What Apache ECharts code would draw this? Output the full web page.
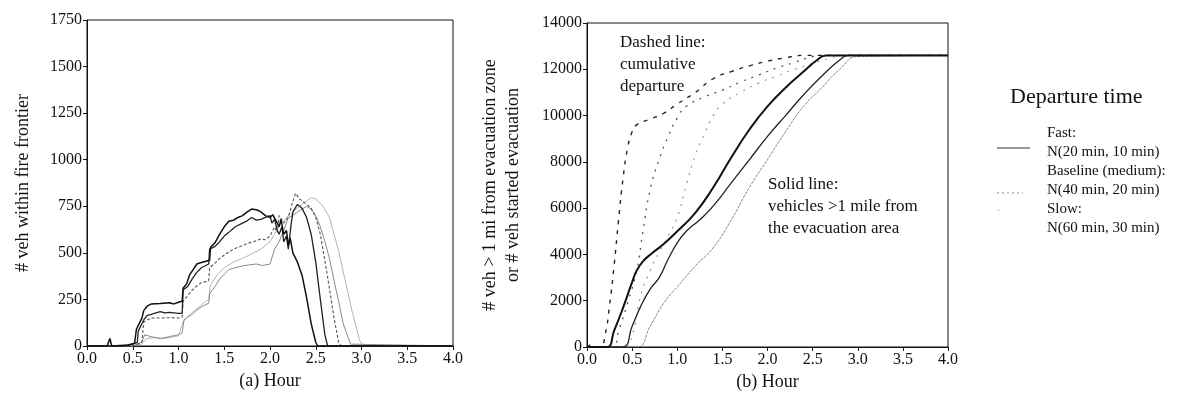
<!DOCTYPE html>
<html>
<head>
<meta charset="utf-8">
<title>Departure time scenarios</title>
<script src="https://cdn.jsdelivr.net/npm/echarts@6.0.0/dist/echarts.min.js"></script>
<style>
    html, body { margin: 0; padding: 0; background: #fff; }
    #chart { width: 1194px; height: 403px; }
</style>
</head>
<body>
<div id="chart"></div>
<script>
// ---- data ----
var hourTicks = [0, 0.5, 1, 1.5, 2, 2.5, 3, 3.5, 4];
var leftYTicks = [0, 250, 500, 750, 1000, 1250, 1500, 1750];
var rightYTicks = [0, 2000, 4000, 6000, 8000, 10000, 12000, 14000];

// (a) vehicles within fire frontier, [hour, count]
var frontierA = [[0, 0], [0.22, 0], [0.25, 40], [0.27, 0], [0.45, 5], [0.52, 15], [0.53, 20], [0.54, 90], [0.6, 150], [0.62, 190], [0.66, 215], [0.7, 225], [0.8, 228], [0.9, 232], [0.95, 226], [1.0, 235], [1.04, 240], [1.05, 310], [1.09, 335], [1.12, 380], [1.16, 410], [1.2, 440], [1.25, 448], [1.3, 455], [1.34, 460], [1.35, 530], [1.4, 555], [1.45, 600], [1.5, 640], [1.55, 670], [1.6, 675], [1.65, 690], [1.7, 700], [1.75, 720], [1.8, 735], [1.82, 745], [1.86, 730], [1.9, 720], [1.95, 700], [2.0, 690], [2.03, 705], [2.05, 700], [2.08, 660], [2.1, 640], [2.12, 680], [2.15, 600], [2.18, 620], [2.2, 540], [2.22, 580], [2.25, 500], [2.3, 450], [2.35, 380], [2.4, 260], [2.45, 120], [2.5, 20], [2.52, 0], [4, 0]];
var frontierB = [[0, 0], [0.4, 0], [0.5, 10], [0.55, 20], [0.56, 80], [0.62, 140], [0.66, 165], [0.7, 170], [0.8, 185], [0.85, 178], [0.9, 180], [1.0, 175], [1.04, 175], [1.05, 300], [1.1, 320], [1.15, 360], [1.2, 395], [1.25, 420], [1.33, 440], [1.34, 520], [1.4, 535], [1.45, 560], [1.5, 590], [1.55, 610], [1.62, 640], [1.7, 660], [1.75, 672], [1.8, 690], [1.85, 676], [1.9, 680], [1.95, 690], [2.0, 700], [2.02, 660], [2.05, 680], [2.08, 620], [2.1, 600], [2.13, 640], [2.15, 560], [2.18, 590], [2.2, 520], [2.23, 650], [2.25, 720], [2.3, 760], [2.35, 740], [2.4, 690], [2.45, 600], [2.5, 450], [2.55, 250], [2.6, 60], [2.63, 0], [4, 0]];
var frontierC = [[0, 0], [0.5, 0], [0.6, 20], [0.62, 130], [0.7, 150], [0.8, 150], [0.9, 152], [1.0, 150], [1.04, 155], [1.05, 240], [1.1, 270], [1.15, 300], [1.2, 322], [1.25, 340], [1.33, 350], [1.34, 420], [1.4, 445], [1.45, 470], [1.52, 495], [1.6, 520], [1.68, 535], [1.75, 550], [1.82, 560], [1.9, 575], [1.95, 570], [2.0, 590], [2.05, 640], [2.08, 610], [2.1, 700], [2.15, 660], [2.2, 690], [2.24, 760], [2.28, 820], [2.32, 790], [2.35, 780], [2.4, 760], [2.45, 740], [2.5, 690], [2.55, 600], [2.62, 400], [2.7, 150], [2.75, 20], [2.78, 0], [4, 0]];
var frontierD = [[0, 0], [0.5, 0], [0.6, 20], [0.63, 60], [0.7, 50], [0.8, 40], [0.9, 50], [1.0, 60], [1.04, 70], [1.06, 140], [1.1, 155], [1.15, 170], [1.2, 192], [1.25, 210], [1.33, 230], [1.34, 280], [1.4, 320], [1.45, 360], [1.5, 385], [1.55, 410], [1.62, 420], [1.7, 430], [1.78, 436], [1.85, 440], [1.92, 432], [2.0, 440], [2.05, 520], [2.1, 560], [2.15, 620], [2.2, 690], [2.25, 700], [2.3, 720], [2.35, 735], [2.4, 750], [2.45, 735], [2.5, 700], [2.55, 640], [2.6, 560], [2.65, 470], [2.7, 350], [2.75, 240], [2.8, 120], [2.88, 10], [2.9, 0], [4, 0]];
var frontierE = [[0, 0], [0.5, 0], [0.6, 10], [0.65, 40], [0.75, 45], [0.85, 40], [1.0, 55], [1.05, 130], [1.12, 168], [1.2, 200], [1.27, 228], [1.33, 250], [1.35, 330], [1.42, 380], [1.5, 420], [1.6, 450], [1.7, 470], [1.8, 495], [1.9, 520], [2.0, 560], [2.05, 600], [2.1, 650], [2.15, 672], [2.2, 700], [2.3, 740], [2.4, 780], [2.45, 795], [2.5, 790], [2.58, 750], [2.65, 690], [2.7, 600], [2.75, 510], [2.8, 400], [2.85, 290], [2.9, 180], [2.98, 30], [3.02, 0], [4, 0]];

// (b) cumulative departure (dashed)
var departFast = [[0, 0], [0.05, 100], [0.1, 0], [0.15, 0], [0.2, 500], [0.25, 1800], [0.3, 3500], [0.35, 5500], [0.4, 7300], [0.45, 8600], [0.5, 9300], [0.55, 9600], [0.7, 9850], [0.85, 10100], [1.0, 10500], [1.2, 11000], [1.4, 11600], [1.6, 11900], [1.8, 12150], [2.0, 12350], [2.2, 12500], [2.4, 12600], [4, 12600]];
var departBase = [[0, 0], [0.28, 0], [0.35, 700], [0.45, 1900], [0.55, 3300], [0.62, 5000], [0.7, 6800], [0.8, 8100], [0.9, 9100], [1.0, 9900], [1.1, 10400], [1.3, 10800], [1.5, 11100], [1.7, 11450], [1.9, 11750], [2.1, 12050], [2.3, 12300], [2.5, 12550], [2.6, 12600], [4, 12600]];
var departSlow = [[0, 0], [0.42, 0], [0.5, 500], [0.6, 2300], [0.7, 3300], [0.8, 4100], [0.9, 4800], [1.0, 5600], [1.1, 7000], [1.2, 8300], [1.3, 9200], [1.4, 10000], [1.5, 10500], [1.7, 11000], [1.9, 11400], [2.1, 11700], [2.3, 12000], [2.5, 12250], [2.7, 12500], [2.85, 12600], [4, 12600]];

// (b) vehicles > 1 mile from evacuation area (solid)
var clearFast = [[0, 0], [0.22, 0], [0.3, 700], [0.4, 1700], [0.5, 2800], [0.55, 3300], [0.62, 3700], [0.72, 4050], [0.85, 4450], [1.0, 5000], [1.2, 5800], [1.4, 6900], [1.6, 8200], [1.8, 9400], [2.0, 10400], [2.2, 11200], [2.4, 11900], [2.55, 12400], [2.65, 12600], [4, 12600]];
var clearBase = [[0, 0], [0.39, 0], [0.5, 900], [0.6, 1800], [0.7, 2500], [0.8, 3000], [0.9, 3800], [1.0, 4500], [1.1, 5000], [1.25, 5500], [1.4, 6100], [1.6, 7100], [1.8, 8100], [2.0, 9100], [2.2, 10000], [2.4, 10900], [2.6, 11700], [2.8, 12400], [2.9, 12600], [4, 12600]];
var clearSlow = [[0, 0], [0.55, 0], [0.7, 900], [0.85, 1900], [1.0, 2600], [1.2, 3500], [1.4, 4300], [1.6, 5500], [1.8, 6900], [2.0, 8100], [2.2, 9300], [2.4, 10400], [2.6, 11200], [2.8, 12000], [3.0, 12550], [4, 12600]];

var legendTitle = 'Departure time';
var legendLabels = ['Fast:', 'N(20 min, 10 min)', 'Baseline (medium):', 'N(40 min, 20 min)', 'Slow:', 'N(60 min, 30 min)'];
var dashedNote = ['Dashed line:', 'cumulative', 'departure'];
var solidNote = ['Solid line:', 'vehicles >1 mile from', 'the evacuation area'];

var SERIF = '"Liberation Serif", "Times New Roman", serif';
var INK = '#111';

var chart = echarts.init(document.getElementById('chart'));

function hourAxis(gridIndex, name, gap) {
    return {
        type: 'value', gridIndex: gridIndex,
        min: hourTicks[0], max: hourTicks[hourTicks.length - 1], interval: hourTicks[1] - hourTicks[0],
        name: name, nameLocation: 'middle', nameGap: gap,
        nameTextStyle: { fontFamily: SERIF, fontSize: 18, color: INK },
        axisLine: { lineStyle: { color: INK, width: 1 } },
        axisTick: { length: 4, lineStyle: { color: INK } },
        axisLabel: {
            fontFamily: SERIF, fontSize: 16, color: INK, margin: 5,
            formatter: function (v) { return v.toFixed(1); }
        },
        splitLine: { show: false }
    };
}

function countAxis(gridIndex, ticks, name, gap) {
    return {
        type: 'value', gridIndex: gridIndex,
        min: ticks[0], max: ticks[ticks.length - 1], interval: ticks[1] - ticks[0],
        name: name, nameLocation: 'middle', nameGap: gap,
        nameTextStyle: { fontFamily: SERIF, fontSize: 18, color: INK, lineHeight: 23 },
        axisLine: { show: true, lineStyle: { color: INK, width: 1 } },
        axisTick: { show: true, length: 4, lineStyle: { color: INK } },
        axisLabel: {
            fontFamily: SERIF, fontSize: 16, color: INK, margin: 5,
            formatter: function (v) { return String(v); }
        },
        splitLine: { show: false }
    };
}

function lineSeries(data, xi, color, width, dash, smooth) {
    return {
        type: 'line', xAxisIndex: xi, yAxisIndex: xi, data: data,
        showSymbol: false, smooth: smooth || false, animation: false,
        lineStyle: { color: color, width: width, type: dash || 'solid' }
    };
}

function textLines(lines, x, y, step, size) {
    return lines.map(function (t, i) {
        return {
            type: 'text', x: x, y: y + i * step,
            style: { text: t, fontFamily: SERIF, fontSize: size, fill: INK, verticalAlign: 'middle' }
        };
    });
}

function buildGraphic() {
    var g = [];
    g = g.concat(textLines(dashedNote, 620, 43, 22, 17));
    g = g.concat(textLines(solidNote, 768, 185, 22, 17));
    g.push({
        type: 'text', x: 1010, y: 97,
        style: { text: legendTitle, fontFamily: SERIF, fontSize: 22, fill: INK, verticalAlign: 'middle' }
    });
    g = g.concat(textLines(legendLabels, 1047, 133, 19, 15));
    // legend line samples
    g.push({ type: 'line', shape: { x1: 997, y1: 148, x2: 1030, y2: 148 }, style: { stroke: '#333', lineWidth: 1 } });
    g.push({ type: 'line', shape: { x1: 997, y1: 193, x2: 1023, y2: 193 }, style: { stroke: '#888', lineWidth: 1, lineDash: [2, 3] } });
    g.push({ type: 'line', shape: { x1: 997, y1: 210, x2: 1000, y2: 210 }, style: { stroke: '#ccc', lineWidth: 1 } });
    return g;
}

function initChart() {
    var option = {
        backgroundColor: '#fff',
        animation: false,
        grid: [
            { left: 87, top: 20, width: 366, height: 326, show: true, borderColor: INK, borderWidth: 1 },
            { left: 587, top: 23, width: 361, height: 324, show: true, borderColor: INK, borderWidth: 1 }
        ],
        xAxis: [hourAxis(0, '(a) Hour', 20), hourAxis(1, '(b) Hour', 26)],
        yAxis: [
            countAxis(0, leftYTicks, '# veh within fire frontier', 52),
            countAxis(1, rightYTicks, '# veh > 1 mi from evacuation zone\nor # veh started evacuation', 62)
        ],
        series: [
            lineSeries(frontierE, 0, '#b4b4b4', 1),
            lineSeries(frontierD, 0, '#8a8a8a', 1),
            lineSeries(frontierC, 0, '#555', 1.1, [3, 2]),
            lineSeries(frontierB, 0, '#222', 1.3),
            lineSeries(frontierA, 0, '#111', 1.5),

            lineSeries(departSlow, 1, '#999', 1.2, [2, 6], true),
            lineSeries(departBase, 1, '#555', 1.3, [2, 6], true),
            lineSeries(departFast, 1, '#222', 1.4, [4, 6], true),
            lineSeries(clearSlow, 1, '#888', 1, [3, 1], true),
            lineSeries(clearBase, 1, '#222', 1.3, 'solid', true),
            lineSeries(clearFast, 1, '#111', 2, 'solid', true)
        ],
        graphic: buildGraphic()
    };
    chart.setOption(option);
}

initChart();
</script>
</body>
</html>
